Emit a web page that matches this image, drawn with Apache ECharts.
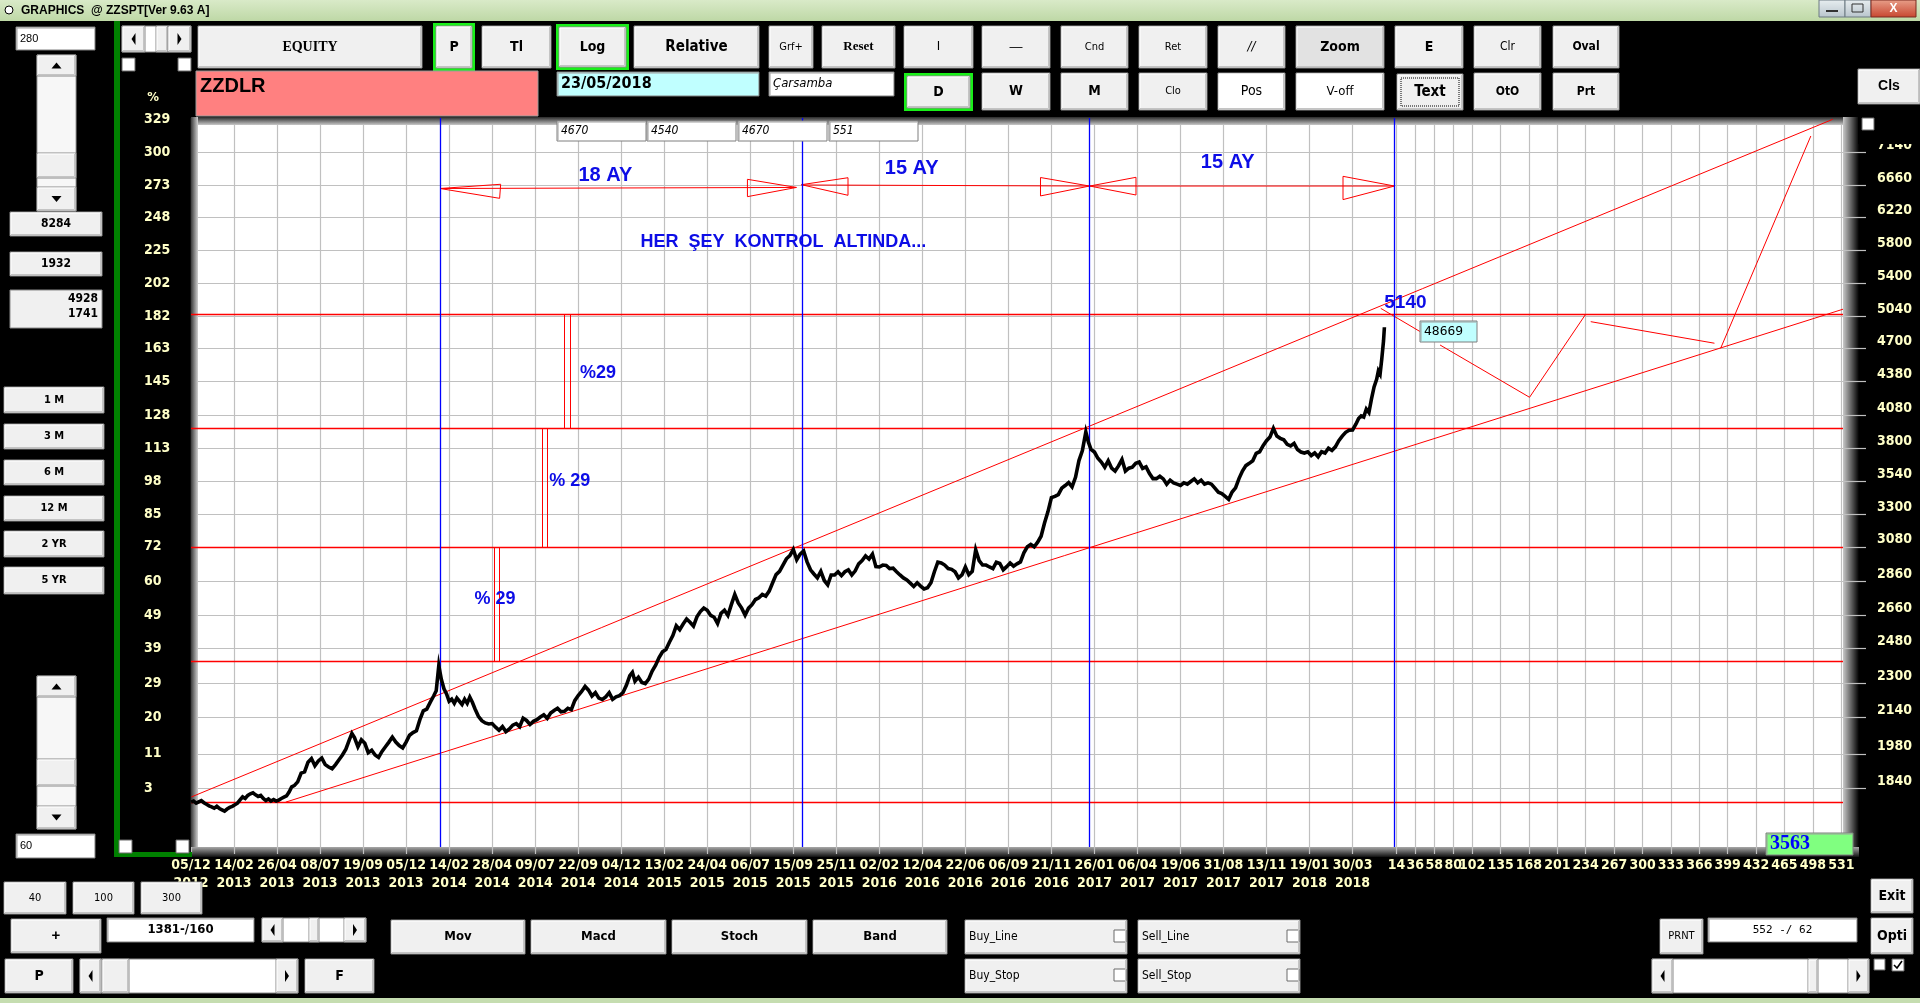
<!DOCTYPE html>
<html><head><meta charset="utf-8">
<script src="https://cdn.jsdelivr.net/npm/echarts@6/dist/echarts.min.js"></script>
<style>html,body{margin:0;padding:0;background:#000;overflow:hidden}#c{width:1920px;height:1003px}</style>
</head><body><div id="c"></div>
<script>
// ---------------- DATA ----------------
const dateLabels = ["05/12\n2012","14/02\n2013","26/04\n2013","08/07\n2013","19/09\n2013","05/12\n2013","14/02\n2014","28/04\n2014","09/07\n2014","22/09\n2014","04/12\n2014","13/02\n2015","24/04\n2015","06/07\n2015","15/09\n2015","25/11\n2015","02/02\n2016","12/04\n2016","22/06\n2016","06/09\n2016","21/11\n2016","26/01\n2017","06/04\n2017","19/06\n2017","31/08\n2017","13/11\n2017","19/01\n2018","30/03\n2018"];
const futureLabels = [14,36,58,80,102,135,168,201,234,267,300,333,366,399,432,465,498,531];
const gridValues = [1840,1980,2140,2300,2480,2660,2860,3080,3300,3540,3800,4080,4380,4700,5040,5400,5800,6220,6660,7140,7660];
const rightLabels = [1840,1980,2140,2300,2480,2660,2860,3080,3300,3540,3800,4080,4380,4700,5040,5400,5800,6220,6660,7140];
const leftLabels = [3,11,20,29,39,49,60,72,85,98,113,128,145,163,182,202,225,248,273,300,329];

const priceDays = [0,3,6,9,12,15,18,21,24,27,30,33,36,39,42,45,48,51,54,57,60,63,66,69,72,75,78,81,84,87,90,93,96,99,102,105,108,111,114,117,120,124,128,132,136,140,144,148,152,156,160,164,168,172,176,180,184,187,190,194,198,202,206,210,214,218,222,226,230,234,238,242,246,250,254,258,262,266,270,274,278,282,285,288,291,294,297,300,303,306,309,312,315,318,321,324,327,330,334,338,342,346,350,354,358,362,366,370,374,378,382,386,390,394,398,402,406,410,414,418,422,426,430,434,438,442,446,450,454,458,462,466,470,474,478,482,486,490,494,498,502,506,510,513,516,520,524,528,532,536,540,544,548,552,556,560,564,568,572,576,580,584,588,592,596,600,604,608,612,616,620,624,628,632,636,640,644,648,652,656,660,664,668,672,676,680,684,688,692,696,700,704,708,712,716,720,724,728,732,736,740,744,748,752,756,760,764,768,772,776,780,784,788,792,796,800,804,808,812,816,820,824,828,832,836,840,844,848,852,856,860,864,868,872,876,880,884,888,892,896,900,904,908,912,916,920,924,928,932,936,940,944,948,952,956,960,964,968,972,976,980,984,988,992,996,1000,1004,1008,1012,1016,1020,1024,1028,1032,1036,1040,1043,1046,1050,1054,1058,1062,1066,1070,1074,1078,1082,1086,1090,1094,1098,1102,1106,1110,1114,1118,1122,1126,1130,1134,1138,1142,1146,1150,1154,1158,1162,1166,1170,1174,1178,1182,1186,1190,1194,1198,1202,1206,1210,1214,1218,1222,1226,1230,1234,1238,1242,1246,1250,1254,1258,1262,1266,1270,1274,1278,1282,1286,1290,1294,1298,1302,1306,1310,1314,1318,1322,1326,1330,1334,1338,1342,1346,1350,1354,1357,1360,1363,1366,1369,1372,1375,1378,1380,1382,1384,1386,1387];
const priceValues = [1786,1790,1782,1787,1792,1784,1778,1772,1768,1763,1770,1762,1757,1752,1760,1766,1770,1776,1782,1795,1806,1800,1812,1818,1822,1814,1808,1812,1800,1792,1798,1790,1796,1790,1794,1800,1805,1810,1825,1845,1850,1865,1900,1905,1945,1960,1930,1950,1962,1935,1925,1918,1935,1955,1975,2000,2040,2068,2050,2010,2040,2025,1985,1995,1975,1965,1990,2010,2030,2052,2030,2015,2005,2030,2060,2072,2080,2130,2170,2178,2210,2240,2265,2390,2320,2275,2250,2215,2225,2205,2230,2215,2200,2225,2205,2235,2210,2180,2145,2125,2115,2110,2112,2096,2082,2098,2076,2088,2105,2112,2098,2136,2126,2108,2122,2130,2142,2152,2136,2160,2172,2182,2166,2168,2182,2176,2218,2242,2262,2286,2268,2240,2256,2230,2224,2236,2256,2224,2236,2242,2256,2292,2340,2356,2312,2332,2306,2300,2322,2362,2392,2432,2462,2474,2512,2548,2602,2580,2612,2640,2622,2600,2652,2682,2702,2690,2660,2650,2615,2672,2690,2660,2722,2782,2732,2702,2662,2702,2722,2752,2762,2782,2772,2802,2852,2902,2922,2962,3002,3022,3062,2996,3032,3052,2982,2932,2906,2882,2922,2866,2840,2900,2900,2920,2896,2920,2932,2900,2926,2970,2990,3020,3000,3032,2952,2950,2962,2960,2940,2942,2920,2900,2882,2870,2850,2830,2852,2832,2815,2822,2852,2920,2980,2975,2962,2940,2935,2920,2882,2900,2950,2902,2922,3060,2990,2962,2962,2950,2940,2980,2972,2932,2952,2975,2955,2970,2982,3040,3080,3095,3080,3110,3150,3240,3320,3420,3430,3442,3490,3510,3532,3500,3572,3702,3782,3935,3850,3792,3770,3720,3690,3650,3700,3642,3620,3660,3710,3620,3642,3650,3680,3690,3640,3652,3600,3562,3562,3580,3560,3520,3550,3530,3520,3510,3530,3520,3540,3560,3530,3550,3520,3530,3520,3490,3460,3450,3430,3408,3462,3492,3562,3620,3662,3680,3700,3760,3772,3822,3862,3892,3965,3900,3882,3870,3832,3820,3840,3790,3770,3762,3772,3742,3762,3732,3772,3762,3800,3782,3812,3862,3900,3932,3950,3952,4002,4050,4072,4062,4132,4102,4222,4332,4402,4482,4452,4602,4780,4920];

const levelValues = [1786, 2410, 3078, 3963, 5056];
const cycleDays = [289.5, 710.5, 1044.4, 1398.8];
const upperTrend = [[0.5, 1806], [1908, 7667]];
const lowerTrend = [[110, 1786], [1920, 5113]];
const arrowShapes = [
  [[289.4,6615],[359.9,6675],[358.7,6478],[289.4,6615]],
  [[289.4,6615],[703.6,6630]],
  [[703.6,6630],[646.7,6746],[646.7,6501],[703.6,6630]],
  [[709.4,6669],[763.6,6769],[763.6,6520],[709.4,6669]],
  [[709.4,6665],[1044.3,6650]],
  [[1044.3,6650],[987.3,6772],[987.3,6511],[1044.3,6650]],
  [[1044.5,6650],[1098.3,6775],[1098.3,6524],[1044.5,6650]],
  [[1044.5,6650],[1398.7,6650]],
  [[1398.7,6650],[1338.9,6789],[1338.9,6460],[1398.7,6650]]
];
const bracketLines = [
  [[352.6,3078],[352.6,2410]], [[358.3,3078],[358.3,2410]],
  [[408.2,3963],[408.2,3078]], [[413.9,3963],[413.9,3078]],
  [[433.8,5056],[433.8,3963]], [[440.8,5056],[440.8,3963]]
];
const forecastLines = [
  [[1382.8,5122],[1428.8,4873]],
  [[1451.7,4737],[1555.7,4237],[1620.9,5058]],
  [[1626.8,4979],[1770.6,4755]],
  [[1777.8,4704],[1882.6,7399]]
];
const noteTexts = ["18 AY","15 AY","15 AY","HER  ŞEY  KONTROL  ALTINDA...","5140","%29","% 29","% 29"];
const notePositions = [[481.6,6808],[837.6,6911],[1204.9,7000],[688.5,5895],[1411.4,5181],[472.9,4458],[440.1,3544],[353.3,2755]];
const noteSizes = [20,20,20,18,19,18,18,18];

// ---------------- SETUP ----------------
const X_MAX = 1920, Y_MIN = 1623, Y_MAX = 7689;
const LAST_BAR = 1387;
const dateDays = dateLabels.map((_, i) => i * 50);
const futureDays = futureLabels.map(l => LAST_BAR + l);
const xDays = dateDays.concat(futureDays);

const NARROW = '"Liberation Sans Narrow","Arial Narrow","DejaVu Sans Condensed",sans-serif';
const SANS = '"Liberation Sans",Arial,sans-serif';
const SERIF = '"Liberation Serif","Times New Roman",serif';
const CREAM = '#ffffc8';

function nearestIdx(arr, v) {
  if (v < 50) v = Math.pow(10, v);
  let best = 0, bd = Infinity;
  arr.forEach((a, i) => { const d = Math.abs(Math.log(a / v)); if (d < bd) { bd = d; best = i; } });
  return best;
}
function fmtX(v) {
  for (let i = 0; i < dateDays.length; i++) if (Math.abs(dateDays[i] - v) < 0.01) return dateLabels[i];
  for (let i = 0; i < futureDays.length; i++) if (Math.abs(futureDays[i] - v) < 0.01) return String(futureLabels[i]);
  return '';
}

// ---------------- UI GRAPHICS ----------------
const G = [];
function rect(x, y, w, h, fill, stroke, z, extra) {
  G.push(Object.assign({type:'rect', z: z == null ? 20 : z, silent:true, shape:{x, y, width:w, height:h},
    style:{fill, stroke: stroke || null, lineWidth: 1}}, extra || {}));
}
function text(x, y, t, font, fill, align, valign, z) {
  G.push({type:'text', z: z == null ? 22 : z, silent:true, x, y,
    style:{text:t, font, fill, align: align || 'left', verticalAlign: valign || 'middle',
      textAlign: align || 'left', textVerticalAlign: valign || 'middle'}});
}
function poly(points, fill, z) {
  G.push({type:'polygon', z: z == null ? 22 : z, silent:true, shape:{points}, style:{fill}});
}
function line(points, stroke, w, z) {
  G.push({type:'polyline', z: z == null ? 22 : z, silent:true, shape:{points}, style:{stroke, fill:null, lineWidth: w || 1}});
}
function button(x, y, w, h, label, font, opt) {
  opt = opt || {};
  if (opt.green) { rect(x - 3, y - 3, w + 6, h + 6, '#19f019', null); }
  rect(x, y, w, h, opt.fill || '#f0f0f0', '#8a8a8a');
  line([[x + 1, y + h - 1], [x + 1, y + 1], [x + w - 1, y + 1]], '#ffffff', 1, 21);
  line([[x + 1, y + h - 1.5], [x + w - 1.5, y + h - 1.5], [x + w - 1.5, y + 1]], '#c4c4c4', 1, 21);
  if (opt.dotted) G.push({type:'rect', z:21, silent:true, shape:{x:x+4, y:y+4, width:w-8, height:h-8}, style:{fill:null, stroke:'#000', lineWidth:1, lineDash:[1,1]}});
  if (label) text(opt.left ? x + 4 : x + w / 2, y + h / 2, label, font, opt.color || '#000', opt.left ? 'left' : 'center');
}
function box(x, y, w, h, fill, label, font, align, color) {
  rect(x, y, w, h, fill, '#7f7f7f');
  line([[x + 1, y + h - 1], [x + 1, y + 1], [x + w - 1, y + 1]], '#a0a0a0', 1, 21);
  if (label != null) {
    const tx = align === 'center' ? x + w / 2 : (align === 'right' ? x + w - 4 : x + 4);
    text(tx, y + h / 2, label, font, color || '#000', align || 'left');
  }
}
function checkbox(x, y, s, checked) {
  rect(x, y, s, s, '#ffffff', '#6a6a6a');
  if (checked) line([[x + 2, y + s / 2], [x + s / 2 - 1, y + s - 3], [x + s - 2, y + 2]], '#000', 1.6, 23);
}
function arrowBtn(x, y, w, h, dir) {
  button(x, y, w, h, null);
  const cx = x + w / 2, cy = y + h / 2;
  if (dir === 'up') poly([[cx - 5, cy + 3], [cx + 5, cy + 3], [cx, cy - 3]], '#000', 23);
  if (dir === 'down') poly([[cx - 5, cy - 3], [cx + 5, cy - 3], [cx, cy + 3]], '#000', 23);
  if (dir === 'left') poly([[cx + 2, cy - 6], [cx + 2, cy + 6], [cx - 2, cy]], '#000', 23);
  if (dir === 'right') poly([[cx - 2, cy - 6], [cx - 2, cy + 6], [cx + 2, cy]], '#000', 23);
}

// plot frame shading
rect(191, 117, 1652, 8, {type:'linear', x:0, y:0, x2:0, y2:1, colorStops:[{offset:0, color:'#2a2a2a'}, {offset:1, color:'#c8c8c8'}]}, null, 1);
rect(191, 117, 7, 730, {type:'linear', x:0, y:0, x2:1, y2:0, colorStops:[{offset:0, color:'#3a3a3a'}, {offset:1, color:'#d0d0d0'}]}, null, 1);
rect(1843, 117, 16, 740, {type:'linear', x:0, y:0, x2:1, y2:0, colorStops:[{offset:0, color:'#c8c8c8'}, {offset:1, color:'#000000'}]}, null, -1);
rect(191, 847, 1668, 10, {type:'linear', x:0, y:0, x2:0, y2:1, colorStops:[{offset:0, color:'#a8a8a8'}, {offset:1, color:'#101010'}]}, null, -1);
// cover the top of right labels
rect(1858, 96, 62, 48, '#000000', null, 15);

// title bar
rect(0, 0, 1920, 21, {type:'linear', x:0, y:0, x2:0, y2:1, colorStops:[{offset:0, color:'#d9eac8'}, {offset:1, color:'#bed8a6'}]}, null);
G.push({type:'circle', z:21, silent:true, shape:{cx:9, cy:10, r:4}, style:{fill:'#fff', stroke:'#000', lineWidth:1}});
text(21, 10.5, 'GRAPHICS  @ ZZSPT[Ver 9.63 A]', 'bold 12px ' + SANS, '#000');
rect(1819, 0, 26, 17, {type:'linear', x:0, y:0, x2:0, y2:1, colorStops:[{offset:0, color:'#e8eef0'}, {offset:1, color:'#b8c4cc'}]}, '#6d7a82');
line([[1826, 11], [1838, 11]], '#333', 2);
rect(1845, 0, 26, 17, {type:'linear', x:0, y:0, x2:0, y2:1, colorStops:[{offset:0, color:'#e8eef0'}, {offset:1, color:'#b8c4cc'}]}, '#6d7a82');
rect(1852, 4, 11, 8, null, '#333');
rect(1871, 0, 45, 17, {type:'linear', x:0, y:0, x2:0, y2:1, colorStops:[{offset:0, color:'#e8a08a'}, {offset:1, color:'#c7452f'}]}, '#7a2a20');
text(1893.5, 8.5, 'X', 'bold 12px ' + SANS, '#ffffff', 'center');
// bottom task strip
rect(0, 998, 1920, 5, '#c5ddb0', null);

// left panel
box(16, 27, 79, 23, '#ffffff', '280', '11px ' + SANS);
rect(37, 55, 39, 156, '#f7f7f7', '#9a9a9a');
arrowBtn(37, 55, 39, 21, 'up');
button(37, 153, 39, 25, null);
arrowBtn(37, 187, 39, 24, 'down');
button(10, 212, 92, 24, '8284', 'bold 12px ' + NARROW);
button(10, 252, 92, 24, '1932', 'bold 12px ' + NARROW);
rect(10, 290, 92, 38, '#f0f0f0', '#8a8a8a');
text(98, 299, '4928', 'bold 12px ' + NARROW, '#000', 'right');
text(98, 314, '1741', 'bold 12px ' + NARROW, '#000', 'right');
[['1 M', 387, 26], ['3 M', 424, 25], ['6 M', 460, 25], ['12 M', 496, 25], ['2 YR', 531, 26], ['5 YR', 567, 27]].forEach(b => button(4, b[1], 100, b[2], b[0], 'bold 11px ' + NARROW));
rect(37, 676, 39, 153, '#f7f7f7', '#9a9a9a');
arrowBtn(37, 676, 39, 21, 'up');
button(37, 759, 39, 27, null);
arrowBtn(37, 806, 39, 23, 'down');
box(16, 834, 79, 24, '#ffffff', '60', '11px ' + SANS);
// green frame
rect(114, 21, 6, 836, '#008000', null);
rect(114, 852, 78, 5, '#008000', null);
// small top scroll + checkboxes
rect(122, 26, 69, 26, '#ffffff', '#8a8a8a');
arrowBtn(122, 26, 23, 26, 'left');
button(156, 26, 12, 26, null);
arrowBtn(168, 26, 23, 26, 'right');
checkbox(122, 58, 13, false); checkbox(178, 58, 13, false);
checkbox(119, 840, 13, false); checkbox(176, 840, 13, false);
text(153, 98, '%', 'bold 13px ' + NARROW, CREAM, 'center');

// toolbar row 1
button(198, 26, 224, 42, 'EQUITY', 'bold 14px ' + SERIF);
button(436, 26, 36, 42, 'P', 'bold 14px ' + NARROW, {green:true});
button(482, 26, 69, 42, 'Tl', 'bold 14px ' + NARROW);
button(559, 27, 67, 40, 'Log', 'bold 14px ' + NARROW, {green:true});
button(634, 26, 125, 42, 'Relative', 'bold 15px ' + NARROW);
button(769, 26, 44, 42, 'Grf+', '11px ' + NARROW);
button(822, 26, 73, 42, 'Reset', 'bold 13px ' + SERIF);
button(904, 26, 69, 42, 'I', '13px ' + NARROW);
button(982, 26, 68, 42, '—', '13px ' + SANS);
button(1061, 26, 67, 42, 'Cnd', '11px ' + NARROW);
button(1139, 26, 68, 42, 'Ret', '11px ' + NARROW);
button(1218, 26, 67, 42, '//', 'italic 13px ' + NARROW);
button(1296, 26, 88, 42, 'Zoom', 'bold 14px ' + NARROW, {fill:'#e2e2e2'});
button(1395, 26, 68, 42, 'E', 'bold 14px ' + NARROW);
button(1474, 26, 67, 42, 'Clr', '12px ' + NARROW);
button(1553, 26, 66, 42, 'Oval', 'bold 12px ' + NARROW);
// row 2
rect(196, 71, 342, 45, '#ff8080', '#9a9a9a');
text(200, 86, 'ZZDLR', 'bold 20px ' + SANS, '#000');
box(557, 72, 202, 24, '#c0ffff', '23/05/2018', 'bold 16px ' + NARROW);
box(769, 72, 125, 24, '#ffffff', 'Çarsamba', 'italic 13px ' + NARROW);
button(907, 76, 63, 32, 'D', 'bold 14px ' + NARROW, {green:true});
button(982, 73, 68, 37, 'W', 'bold 14px ' + NARROW);
button(1061, 73, 67, 37, 'M', 'bold 14px ' + NARROW);
button(1139, 73, 68, 37, 'Clo', '11px ' + NARROW);
button(1218, 73, 67, 37, 'Pos', '14px ' + NARROW, {fill:'#ffffff'});
button(1296, 73, 88, 37, 'V-off', '13px ' + NARROW, {fill:'#ffffff'});
button(1397, 74, 66, 36, 'Text', 'bold 15px ' + NARROW, {dotted:true});
button(1474, 73, 67, 37, 'OtO', 'bold 12px ' + NARROW);
button(1553, 73, 66, 37, 'Prt', 'bold 12px ' + NARROW);
button(1858, 69, 62, 35, 'Cls', 'bold 14px ' + SANS);
checkbox(1862, 118, 12, false);
// value boxes on plot top
[['4670', 557], ['4540', 647], ['4670', 738], ['551', 829]].forEach(b => box(b[1], 121, 89, 20, '#ffffff', b[0], 'italic 12px ' + NARROW));
// marker boxes
box(1420, 321, 57, 21, '#c0ffff', '48669', '13px "DejaVu Sans Mono",monospace');
box(1766, 833, 87, 22, '#80ff80', '3563', 'bold 20px ' + SERIF, 'left', '#0000ff');

// bottom controls
button(4, 882, 62, 32, '40', '11px ' + NARROW);
button(73, 882, 61, 32, '100', '11px ' + NARROW);
button(141, 882, 61, 32, '300', '11px ' + NARROW);
button(11, 919, 90, 34, '+', 'bold 15px ' + SANS);
box(107, 918, 147, 24, '#ffffff', '1381-/160', 'bold 13px ' + NARROW, 'center');
rect(262, 918, 104, 24, '#ffffff', '#8a8a8a');
arrowBtn(262, 918, 21, 24, 'left');
button(309, 918, 10, 24, null);
arrowBtn(344, 918, 22, 24, 'right');
button(391, 920, 134, 34, 'Mov', 'bold 13px ' + NARROW);
button(531, 920, 135, 34, 'Macd', 'bold 13px ' + NARROW);
button(672, 920, 135, 34, 'Stoch', 'bold 13px ' + NARROW);
button(813, 920, 134, 34, 'Band', 'bold 13px ' + NARROW);
button(5, 959, 68, 34, 'P', 'bold 14px ' + NARROW);
rect(80, 959, 218, 34, '#ffffff', '#8a8a8a');
arrowBtn(80, 959, 21, 34, 'left');
button(102, 959, 27, 34, null);
arrowBtn(276, 959, 22, 34, 'right');
button(305, 959, 69, 34, 'F', 'bold 14px ' + NARROW);
[['Buy_Line', 965, 920], ['Sell_Line', 1138, 920], ['Buy_Stop', 965, 959], ['Sell_Stop', 1138, 959]].forEach(b => {
  button(b[1], b[2], 162, 34, b[0], '12px ' + NARROW, {left:true});
  checkbox(b[1] + 149, b[2] + 10, 12, false);
});
button(1660, 919, 43, 35, 'PRNT', '11px ' + NARROW);
box(1708, 918, 149, 24, '#ffffff', '552 -/ 62', '11px "DejaVu Sans Mono",monospace', 'center');
rect(1652, 959, 217, 34, '#ffffff', '#8a8a8a');
arrowBtn(1652, 959, 21, 34, 'left');
button(1808, 959, 10, 34, null);
arrowBtn(1848, 959, 21, 34, 'right');
button(1871, 879, 42, 34, 'Exit', 'bold 14px ' + NARROW);
button(1871, 918, 42, 36, 'Opti', 'bold 14px ' + NARROW);
checkbox(1874, 959, 11, false);
checkbox(1892, 959, 12, true);

// ---------------- CHART ----------------
const chart = echarts.init(document.getElementById('c'), null, {renderer:'canvas'});
const redStyle = {color:'#ff0000', width:1, opacity:1};
const linesBase = {type:'lines', coordinateSystem:'cartesian2d', silent:true, animation:false, effect:{show:false}};
const labelFont = {color:CREAM, fontFamily:NARROW, fontSize:14, fontWeight:'bold'};

chart.setOption({
  backgroundColor:'#000',
  animation:false,
  grid:{left:191, top:118, width:1652, height:729, show:true, backgroundColor:'#ffffff', borderWidth:0, containLabel:false},
  xAxis:{
    type:'value', min:0, max:X_MAX,
    axisLine:{show:false},
    axisTick:{show:true, customValues:xDays, length:7, lineStyle:{color:'#c0c0c0', width:1.2}},
    splitLine:{show:true, lineStyle:{color:'#c0c0c0', width:1.2}},
    axisLabel:Object.assign({customValues:xDays, formatter:fmtX, lineHeight:18, margin:9}, labelFont)
  },
  yAxis:[
    {type:'log', position:'left', min:Y_MIN, max:Y_MAX,
     axisLine:{show:false}, axisTick:{show:false, customValues:gridValues},
     splitLine:{show:true, lineStyle:{color:'#c0c0c0', width:1.2}},
     axisLabel:Object.assign({customValues:gridValues, formatter:v => String(leftLabels[nearestIdx(gridValues, v)]), align:'left', margin:47}, labelFont)},
    {type:'log', position:'right', min:Y_MIN, max:Y_MAX,
     axisLine:{show:false}, axisTick:{show:true, customValues:rightLabels, length:23, lineStyle:{color:'#c0c0c0', width:1.2}},
     splitLine:{show:false},
     axisLabel:Object.assign({customValues:rightLabels, formatter:v => String(rightLabels[nearestIdx(rightLabels, v)]), align:'left', verticalAlign:'bottom', margin:34}, labelFont)}
  ],
  graphic:{elements:G},
  series:[
    Object.assign({}, linesBase, {z:3, lineStyle:{color:'#ff0000', width:1.4, opacity:1},
      data:levelValues.map(v => ({coords:[[0, v], [X_MAX, v]]}))}),
    Object.assign({}, linesBase, {z:3, lineStyle:redStyle,
      data:[{coords:upperTrend}, {coords:lowerTrend}]}),
    Object.assign({}, linesBase, {z:3, polyline:true, lineStyle:redStyle,
      data:arrowShapes.map(c => ({coords:c}))}),
    Object.assign({}, linesBase, {z:3, lineStyle:redStyle,
      data:bracketLines.map(c => ({coords:c}))}),
    Object.assign({}, linesBase, {z:3, polyline:true, lineStyle:redStyle,
      data:forecastLines.map(c => ({coords:c}))}),
    Object.assign({}, linesBase, {z:4, lineStyle:{color:'#0000ff', width:1.3, opacity:1},
      data:cycleDays.map(d => ({coords:[[d, Y_MIN], [d, Y_MAX]]}))}),
    {type:'line', z:5, silent:true, showSymbol:false, animation:false,
     data:priceDays.map((d, i) => [d, priceValues[i]]),
     lineStyle:{color:'#000000', width:3.6, join:'miter'}},
    {type:'scatter', z:6, silent:true, symbolSize:1, itemStyle:{color:'rgba(0,0,0,0)'},
     data:noteTexts.map((t, i) => ({name:t, value:notePositions[i], label:{fontSize:noteSizes[i]}})),
     label:{show:true, position:'inside', formatter:p => p.name, color:'#0d0de6', opacity:1,
       textBorderWidth:0, textBorderColor:'transparent', textShadowBlur:0,
       fontWeight:'bold', fontFamily:SANS}}
  ]
});
</script>
</body></html>
